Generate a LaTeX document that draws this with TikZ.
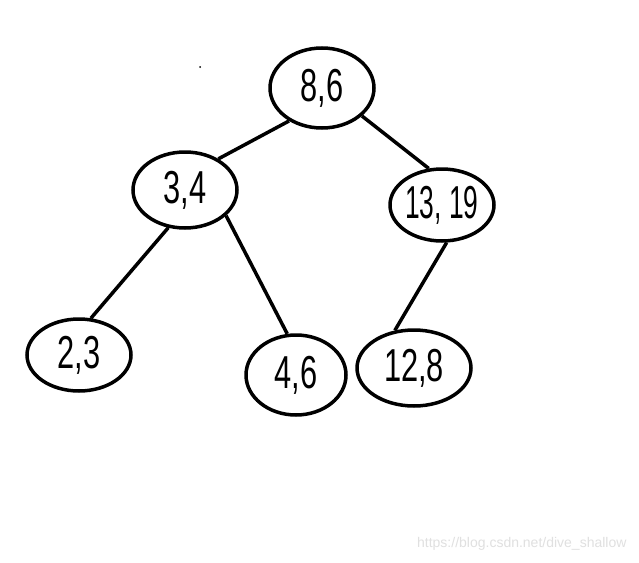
\documentclass[tikz,border=0pt]{standalone}
\usepackage{fontspec}
\usepackage{graphicx}
\setmainfont{Liberation Sans}
\usetikzlibrary{shapes.geometric}
\newcommand{\hw}[2][0.7]{\makebox[0pt]{\scalebox{#1}[1.05]{#2}}}
\tikzset{
  tnode/.style={ellipse, draw=black, line width=3.5pt, inner sep=0pt,
    font=\fontsize{44}{44}\selectfont},
  tedge/.style={draw=black, line width=3.5pt}
}
\begin{document}
\begin{tikzpicture}[x=1pt,y=-1pt]
\useasboundingbox[fill=white] (0,0) rectangle (639,562);
\node[tnode, minimum width=104pt, minimum height=80pt] (a) at (322,88) {\hw{8,6}};
\node[tnode, minimum width=104pt, minimum height=76pt] (b) at (185,190) {\hw{3,4}};
\node[tnode, minimum width=104pt, minimum height=72pt] (c) at (442,205) {\hw[0.6]{13, 19}};
\node[tnode, minimum width=104pt, minimum height=72pt] (d) at (79,355) {\hw{2,3}};
\node[tnode, minimum width=100pt, minimum height=80pt] (e) at (296,375) {\hw{4,6}};
\node[tnode, minimum width=114pt, minimum height=76pt] (f) at (414,368) {\hw{12,8}};
\draw[tedge] (a.225) -- (b.43);
\draw[tedge] (a.325) -- (c.110);
\draw[tedge] (b.246) -- (d.72);
\draw[tedge] (b.328) -- (e.102);
\draw[tedge] (c.277) -- (f.117);
\fill[black] (200,67) circle (1pt);
\node[text=black!12, font=\fontsize{14}{14}\selectfont, anchor=east] (w) at (630,544) {https://blog.csdn.net/dive\_shallow};
\end{tikzpicture}
\end{document}
